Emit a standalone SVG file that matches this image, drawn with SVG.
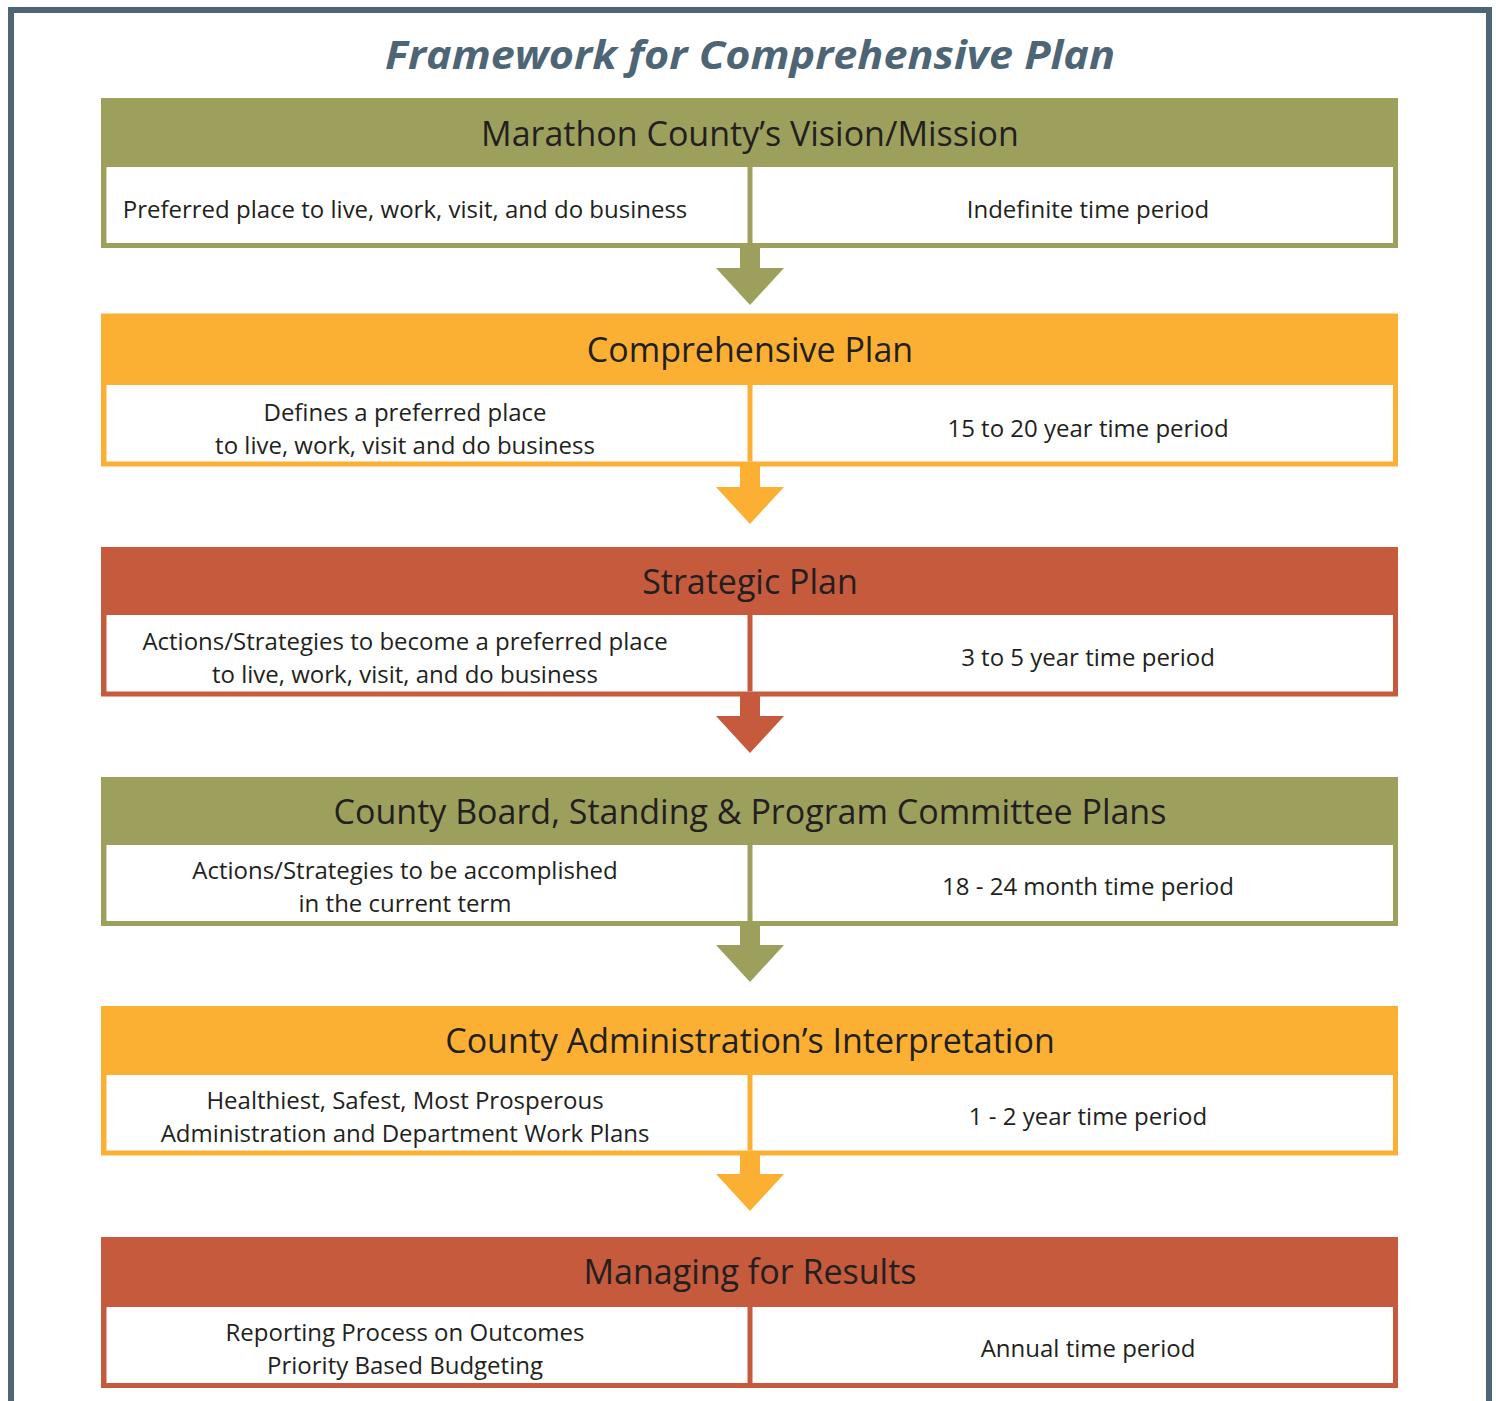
<svg xmlns="http://www.w3.org/2000/svg" width="1496" height="1401" viewBox="0 0 1496 1401">
<style>
.title{font-family:"Open Sans","Noto Sans",sans-serif;font-weight:700;font-style:italic;font-size:40px;fill:#4e6576;text-anchor:middle}
.hdr{font-family:"Open Sans","Noto Sans",sans-serif;font-size:34px;fill:#231f20;text-anchor:middle}
.body{font-family:"Open Sans","Noto Sans",sans-serif;font-size:24px;fill:#231f20;text-anchor:middle}
.olive{fill:#9da05d}
.orange{fill:#fbb034}
.red{fill:#c55a3c}
.white{fill:#ffffff}
</style>
<rect x="0" y="0" width="1496" height="1401" fill="#ffffff"/>
<path d="M11,1401 V10 H1489 V1401" fill="none" stroke="#4e6576" stroke-width="6"/>
<text class="title" x="750" y="69" textLength="730" lengthAdjust="spacingAndGlyphs">Framework for Comprehensive Plan</text>

<g id="connectors">
  <path class="olive" d="M740,248 H760 V268 H784 L750,305 L716,268 H740 Z"/>
  <path class="orange" d="M740,466 H760 V487 H784 L750,524 L716,487 H740 Z"/>
  <path class="red" d="M740,696 H760 V716 H784 L750,753 L716,716 H740 Z"/>
  <path class="olive" d="M740,925 H760 V945 H784 L750,982 L716,945 H740 Z"/>
  <path class="orange" d="M740,1155 H760 V1174 H784 L750,1211 L716,1174 H740 Z"/>
</g>

<g id="node-vision">
  <rect class="olive" x="101" y="98" width="1297" height="150"/>
  <rect class="white" x="106.5" y="167" width="1286.5" height="76"/>
  <rect class="olive" x="747.5" y="167" width="5" height="76"/>
  <text class="hdr" x="750" y="146">Marathon County’s Vision/Mission</text>
  <text class="body" x="405" y="218">Preferred place to live, work, visit, and do business</text>
  <text class="body" x="1088" y="218">Indefinite time period</text>
</g>

<g id="node-comprehensive">
  <rect class="orange" x="101" y="313.5" width="1297" height="153"/>
  <rect class="white" x="106.5" y="385" width="1286.5" height="76.5"/>
  <rect class="orange" x="747.5" y="385" width="5" height="76.5"/>
  <text class="hdr" x="750" y="362">Comprehensive Plan</text>
  <text class="body" x="405" y="421">Defines a preferred place</text>
  <text class="body" x="405" y="454">to live, work, visit and do business</text>
  <text class="body" x="1088" y="437">15 to 20 year time period</text>
</g>

<g id="node-strategic">
  <rect class="red" x="101" y="547" width="1297" height="149.5"/>
  <rect class="white" x="106.5" y="615" width="1286.5" height="76.5"/>
  <rect class="red" x="747.5" y="615" width="5" height="76.5"/>
  <text class="hdr" x="750" y="594">Strategic Plan</text>
  <text class="body" x="405" y="650">Actions/Strategies to become a preferred place</text>
  <text class="body" x="405" y="683">to live, work, visit, and do business</text>
  <text class="body" x="1088" y="666">3 to 5 year time period</text>
</g>

<g id="node-board">
  <rect class="olive" x="101" y="777" width="1297" height="149"/>
  <rect class="white" x="106.5" y="845" width="1286.5" height="76"/>
  <rect class="olive" x="747.5" y="845" width="5" height="76"/>
  <text class="hdr" x="750" y="824">County Board, Standing &amp; Program Committee Plans</text>
  <text class="body" x="405" y="879">Actions/Strategies to be accomplished</text>
  <text class="body" x="405" y="912">in the current term</text>
  <text class="body" x="1088" y="895">18 - 24 month time period</text>
</g>

<g id="node-administration">
  <rect class="orange" x="101" y="1006" width="1297" height="149.5"/>
  <rect class="white" x="106.5" y="1075" width="1286.5" height="75.5"/>
  <rect class="orange" x="747.5" y="1075" width="5" height="75.5"/>
  <text class="hdr" x="750" y="1053">County Administration’s Interpretation</text>
  <text class="body" x="405" y="1109">Healthiest, Safest, Most Prosperous</text>
  <text class="body" x="405" y="1142">Administration and Department Work Plans</text>
  <text class="body" x="1088" y="1125">1 - 2 year time period</text>
</g>

<g id="node-results">
  <rect class="red" x="101" y="1237" width="1297" height="151"/>
  <rect class="white" x="106.5" y="1307" width="1286.5" height="76"/>
  <rect class="red" x="747.5" y="1307" width="5" height="76"/>
  <text class="hdr" x="750" y="1284">Managing for Results</text>
  <text class="body" x="405" y="1341">Reporting Process on Outcomes</text>
  <text class="body" x="405" y="1374">Priority Based Budgeting</text>
  <text class="body" x="1088" y="1357">Annual time period</text>
</g>
</svg>
